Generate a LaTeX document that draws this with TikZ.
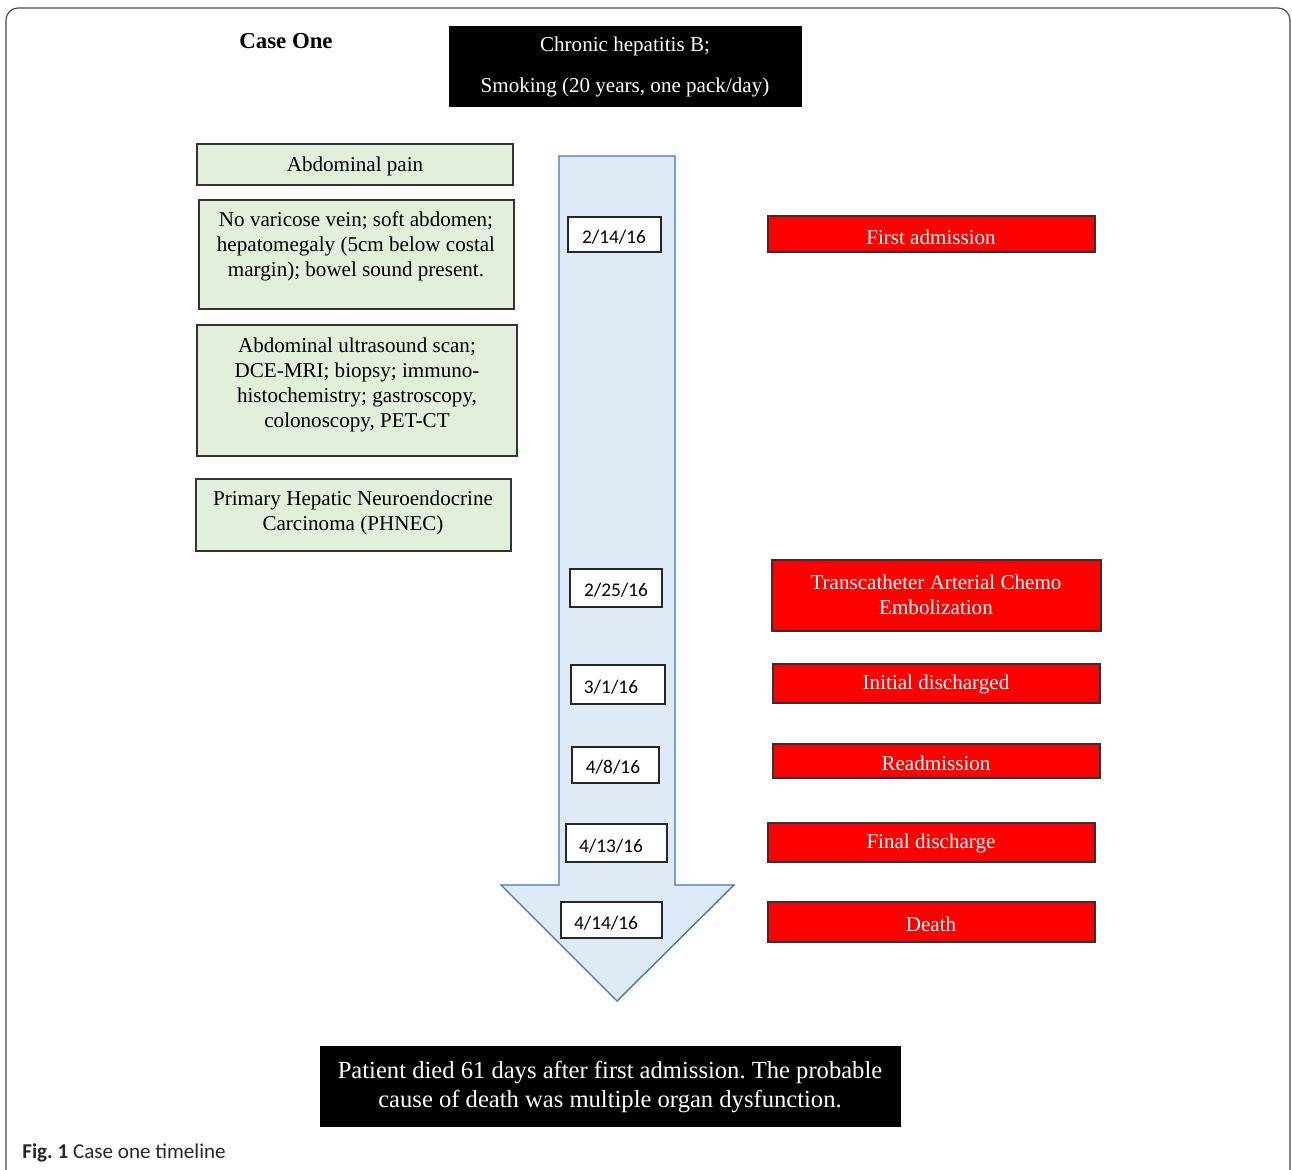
\documentclass[tikz,border=0pt]{standalone}
\usepackage{fontspec}
\usepackage{tikz}
\usepackage{xcolor}
\setmainfont{Liberation Serif}
\newfontfamily\datefont{Carlito}
\newfontfamily\capfont{Carlito}
\frenchspacing

\definecolor{boxgreen}{RGB}{226,239,218}
\definecolor{arrowblue}{RGB}{222,235,247}
\definecolor{arrowline}{RGB}{68,114,196}
\definecolor{eventred}{RGB}{255,0,0}

\tikzset{
  greenbox/.style={draw=black!80, line width=0.8pt, fill=boxgreen},
  redbox/.style={draw=black!80, line width=0.8pt, fill=eventred},
  blackbox/.style={draw=black, fill=black},
  datebox/.style={draw=black!85, line width=0.8pt, fill=white},
  txt/.style={align=center, inner sep=0pt, yshift=-1.1pt, font=\fontsize{12}{14.2}\selectfont},
  whitetxt/.style={txt, text=white},
  datetxt/.style={inner sep=0pt, yshift=-1.1pt, font=\datefont\fontsize{11}{13}\selectfont}
}

\begin{document}
\begin{tikzpicture}[x=0.02cm,y=-0.02cm]
\useasboundingbox (0,0) rectangle (1292,1170);

% frame
\draw[black!70, line width=0.7pt] (6,1172) -- (6,20) arc (180:270:12) -- (1278,8) arc (270:360:12) -- (1290,1172);

% title and history
\node[align=center, inner sep=0pt, font=\bfseries\fontsize{13}{15}\selectfont] (title) at (286,41) {Case One};
\draw[blackbox] (449,26) rectangle (801,106);
\node[whitetxt, font=\fontsize{12}{23.8}\selectfont] (history) at (625,65) {Chronic hepatitis B;\\Smoking (20 years, one pack/day)};

% arrow
\draw[arrowline, line width=0.8pt, fill=arrowblue] (559,156) -- (675,156) -- (675,885) -- (734,885)
  -- (617,1001) -- (501,885) -- (559,885) -- cycle;

% left column
\draw[greenbox] (197,144) rectangle (513,185);
\node[txt] (pain) at (355,164) {Abdominal pain};

\draw[greenbox] (199,200) rectangle (514,309);
\node[txt] (exam) at (356,244) {No varicose vein; soft abdomen;\\hepatomegaly (5cm below costal\\margin); bowel sound present.};

\draw[greenbox] (197,325) rectangle (517,456);
\node[txt] (tests) at (357,383) {Abdominal ultrasound scan;\\DCE-MRI; biopsy; immuno-\\histochemistry; gastroscopy,\\colonoscopy, PET-CT};

\draw[greenbox] (196,479) rectangle (511,551);
\node[txt] (diag) at (353,511) {Primary Hepatic Neuroendocrine\\Carcinoma (PHNEC)};

% dates
\draw[datebox] (568,217) rectangle (661,252);
\node[datetxt] (d1) at (614,235) {2/14/16};
\draw[datebox] (570,569) rectangle (662,607);
\node[datetxt] (d2) at (616,588) {2/25/16};
\draw[datebox] (571,665) rectangle (665,704);
\node[datetxt] (d3) at (611,685) {3/1/16};
\draw[datebox] (572,747) rectangle (659,783);
\node[datetxt] (d4) at (613,765) {4/8/16};
\draw[datebox] (566,824) rectangle (667,862);
\node[datetxt] (d5) at (611,844) {4/13/16};
\draw[datebox] (561,902) rectangle (662,938);
\node[datetxt] (d6) at (606,921) {4/14/16};

% events
\draw[redbox] (768,216) rectangle (1095,252);
\node[whitetxt] (ev1) at (931,235) {First admission};
\draw[redbox] (772,560) rectangle (1101,631);
\node[whitetxt] (ev2) at (936,593) {Transcatheter Arterial Chemo\\Embolization};
\draw[redbox] (773,664) rectangle (1100,703);
\node[whitetxt] (ev3) at (936,683) {Initial discharged};
\draw[redbox] (773,744) rectangle (1100,778);
\node[whitetxt] (ev4) at (936,761) {Readmission};
\draw[redbox] (768,823) rectangle (1095,862);
\node[whitetxt] (ev5) at (931,842) {Final discharge};
\draw[redbox] (768,902) rectangle (1095,942);
\node[whitetxt] (ev6) at (931,922) {Death};

% outcome
\draw[blackbox] (320,1046) rectangle (900,1126);
\node[whitetxt, font=\fontsize{14}{17}\selectfont] (outcome) at (610,1085) {Patient died 61 days after first admission. The probable\\cause of death was multiple organ dysfunction.};

% caption
\node[anchor=west, inner sep=0pt, font=\capfont\fontsize{12}{14}\selectfont, text=black!85] (cap) at (22,1153) {\textbf{Fig.\ 1} Case one timeline};

\end{tikzpicture}
\end{document}
